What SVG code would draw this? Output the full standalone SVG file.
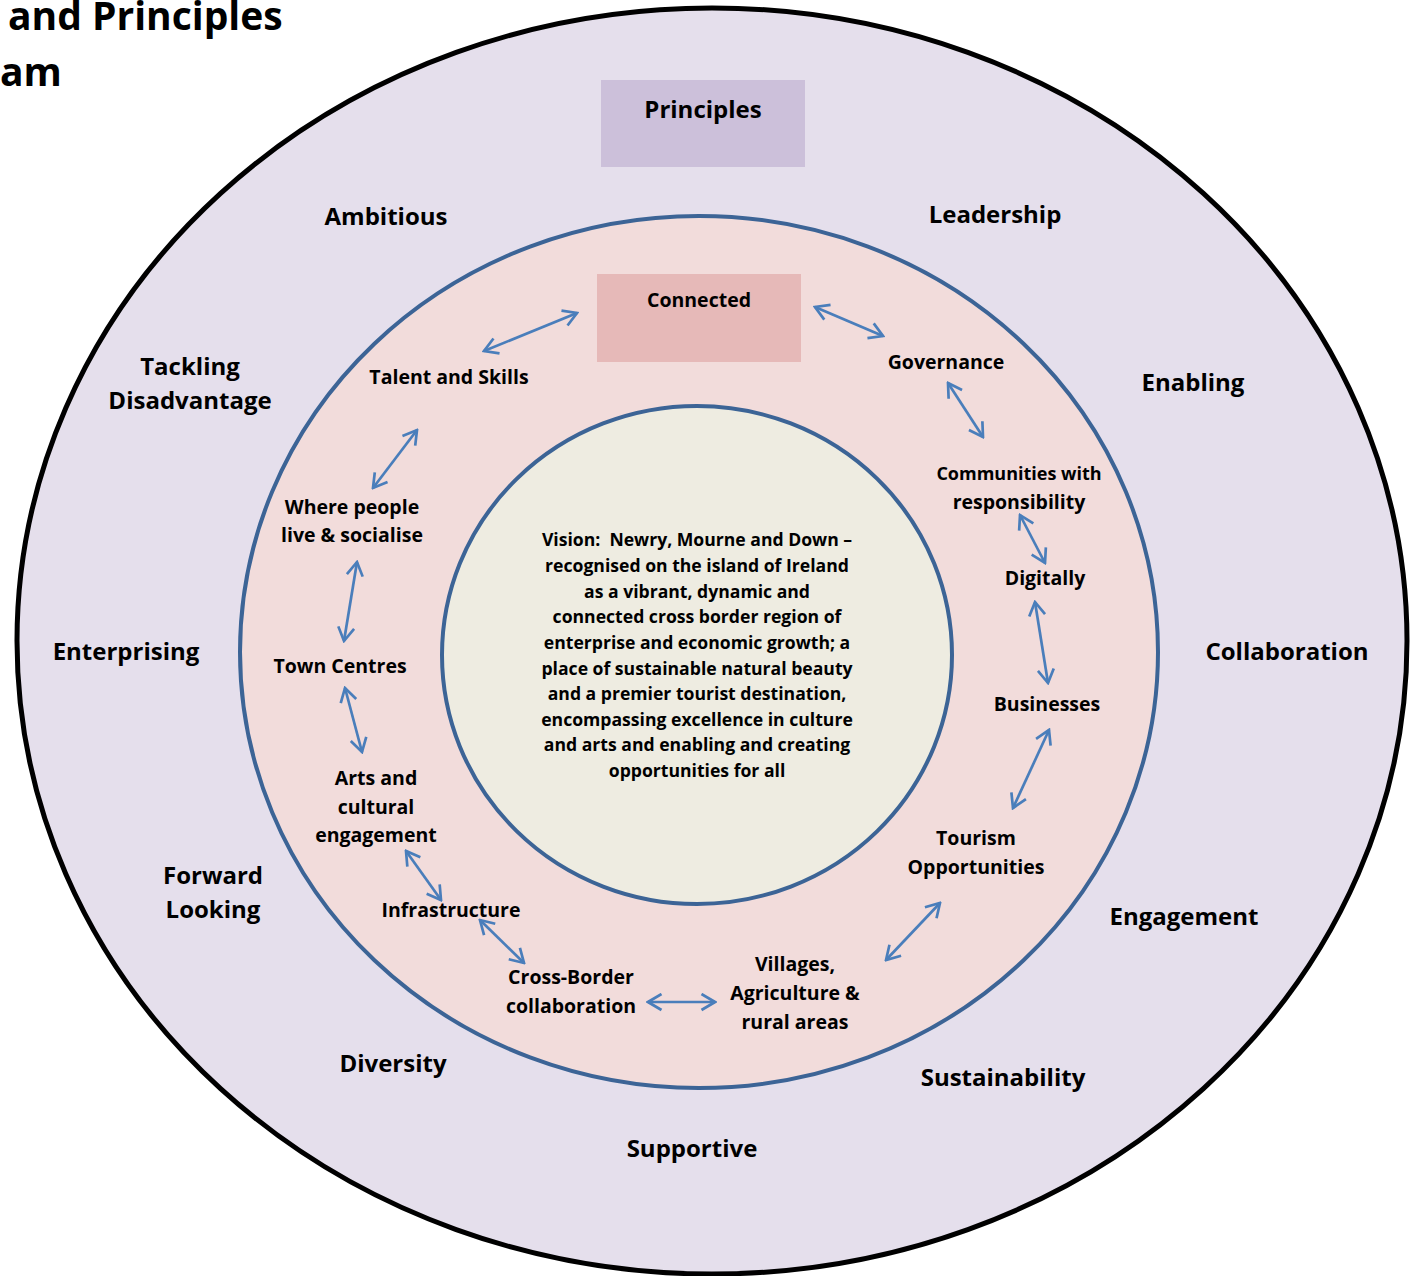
<svg xmlns="http://www.w3.org/2000/svg" width="1420" height="1276" viewBox="0 0 1420 1276">
<style>
text{font-family:"Open Sans",Lato,"Liberation Sans",sans-serif;font-weight:bold;fill:#000;text-anchor:middle}
.outer{font-size:24px}
.inner{font-size:19.5px}
.vis{font-size:17.6px}
.conn line{stroke:#4A7EBB;stroke-width:2.7;fill:none;marker-start:url(#ah);marker-end:url(#ah)}
</style>
<defs>
<marker id="ah" markerUnits="userSpaceOnUse" viewBox="0 0 17 19" refX="15" refY="9.5" markerWidth="17" markerHeight="19" orient="auto-start-reverse">
<path d="M1.5,1.5 L15,9.5 L1.5,17.5" fill="none" stroke="#4A7EBB" stroke-width="2.7"/>
</marker>
</defs>
<rect width="1420" height="1276" fill="#fff"/>
<g id="title">
<text x="8" y="30" style="font-size:39px;text-anchor:start">and Principles</text>
<text x="0" y="86" style="font-size:39px;text-anchor:start">am</text>
</g>
<g id="ring-outer"><ellipse cx="712" cy="641" rx="695" ry="633" fill="#E5DFEC" stroke="#000" stroke-width="5"/></g>
<g id="ring-middle"><ellipse cx="699" cy="652" rx="459" ry="436" fill="#F2DCDB" stroke="#3C6496" stroke-width="4"/></g>
<g id="ring-inner"><ellipse cx="697" cy="655" rx="255" ry="249" fill="#EEECE1" stroke="#3C6496" stroke-width="4"/></g>
<g id="principles"><rect x="601" y="80" width="204" height="87" fill="#CCC0DA"/><text class="outer" x="703" y="118">Principles</text></g>
<g id="connected"><rect x="597" y="274" width="204" height="88" fill="#E6B9B8"/><text class="inner" x="699" y="307">Connected</text></g>
<g id="p-ambitious"><text class="outer" x="386" y="225">Ambitious</text></g>
<g id="p-leadership"><text class="outer" x="995" y="223">Leadership</text></g>
<g id="p-tackling"><text class="outer" x="190" y="375">Tackling</text><text class="outer" x="190" y="409">Disadvantage</text></g>
<g id="p-enabling"><text class="outer" x="1193" y="391">Enabling</text></g>
<g id="p-enterprising"><text class="outer" x="126" y="660">Enterprising</text></g>
<g id="p-collaboration"><text class="outer" x="1287" y="660">Collaboration</text></g>
<g id="p-forward"><text class="outer" x="213" y="884">Forward</text><text class="outer" x="213" y="918">Looking</text></g>
<g id="p-engagement"><text class="outer" x="1184" y="925">Engagement</text></g>
<g id="p-diversity"><text class="outer" x="393" y="1072">Diversity</text></g>
<g id="p-sustainability"><text class="outer" x="1003" y="1086">Sustainability</text></g>
<g id="p-supportive"><text class="outer" x="692" y="1157">Supportive</text></g>
<g id="n-talent"><text class="inner" x="449" y="384">Talent and Skills</text></g>
<g id="n-governance"><text class="inner" x="946" y="369">Governance</text></g>
<g id="n-communities"><text class="inner" x="1019" y="480" style="font-size:18px">Communities with</text><text class="inner" x="1019" y="509">responsibility</text></g>
<g id="n-digitally"><text class="inner" x="1045" y="585">Digitally</text></g>
<g id="n-businesses"><text class="inner" x="1047" y="711">Businesses</text></g>
<g id="n-tourism"><text class="inner" x="976" y="845">Tourism</text><text class="inner" x="976" y="874">Opportunities</text></g>
<g id="n-villages"><text class="inner" x="795" y="971">Villages,</text><text class="inner" x="795" y="1000">Agriculture &amp;</text><text class="inner" x="795" y="1029">rural areas</text></g>
<g id="n-crossborder"><text class="inner" x="571" y="984">Cross-Border</text><text class="inner" x="571" y="1013">collaboration</text></g>
<g id="n-infrastructure"><text class="inner" x="451" y="917">Infrastructure</text></g>
<g id="n-arts"><text class="inner" x="376" y="785">Arts and</text><text class="inner" x="376" y="814">cultural</text><text class="inner" x="376" y="842">engagement</text></g>
<g id="n-town"><text class="inner" x="340" y="673">Town Centres</text></g>
<g id="n-where"><text class="inner" x="352" y="514">Where people</text><text class="inner" x="352" y="542">live &amp; socialise</text></g>
<g id="vision">
<text class="vis" x="697" y="546" xml:space="preserve">Vision:  Newry, Mourne and Down –</text>
<text class="vis" x="697" y="572">recognised on the island of Ireland</text>
<text class="vis" x="697" y="598">as a vibrant, dynamic and</text>
<text class="vis" x="697" y="623">connected cross border region of</text>
<text class="vis" x="697" y="649">enterprise and economic growth; a</text>
<text class="vis" x="697" y="675">place of sustainable natural beauty</text>
<text class="vis" x="697" y="700">and a premier tourist destination,</text>
<text class="vis" x="697" y="726">encompassing excellence in culture</text>
<text class="vis" x="697" y="751">and arts and enabling and creating</text>
<text class="vis" x="697" y="777">opportunities for all</text>
</g>
<g id="connectors" class="conn">
<line x1="484" y1="351" x2="577" y2="313"/>
<line x1="815" y1="307" x2="883" y2="336"/>
<line x1="948" y1="383" x2="983" y2="437"/>
<line x1="1020" y1="515" x2="1045" y2="563"/>
<line x1="1035" y1="602" x2="1048" y2="683"/>
<line x1="1049" y1="730" x2="1013" y2="808"/>
<line x1="940" y1="903" x2="886" y2="960"/>
<line x1="715" y1="1002" x2="648" y2="1002"/>
<line x1="524" y1="963" x2="480" y2="920"/>
<line x1="441" y1="900" x2="406" y2="851"/>
<line x1="362" y1="752" x2="345" y2="688"/>
<line x1="344" y1="641" x2="357" y2="562"/>
<line x1="373" y1="488" x2="417" y2="430"/>
</g>
</svg>
